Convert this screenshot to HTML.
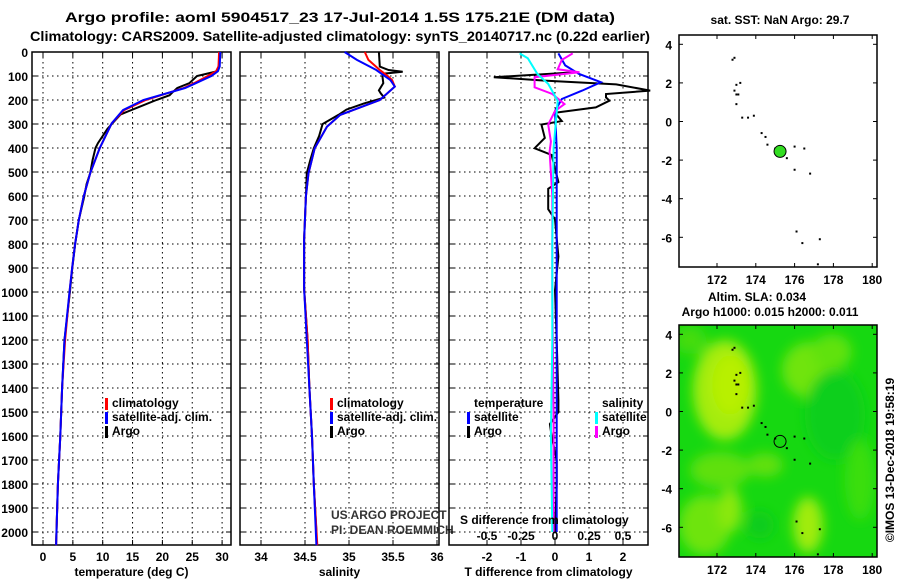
<!DOCTYPE html>
<html><head><meta charset="utf-8"><style>
body{margin:0;background:#fff;}
svg{display:block;font-family:"Liberation Sans",Arial,sans-serif;}
.b{font-weight:bold;font-size:12px;}
.t{font-weight:bold;font-size:14px;}
</style></head><body>
<svg id="c" width="900" height="580" viewBox="0 0 900 580">
<text class="t" x="65" y="22" textLength="550" lengthAdjust="spacingAndGlyphs">Argo profile: aoml 5904517_23 17-Jul-2014 1.5S 175.21E (DM data)</text>
<text class="t" x="30" y="41" textLength="620" lengthAdjust="spacingAndGlyphs">Climatology: CARS2009. Satellite-adjusted climatology: synTS_20140717.nc (0.22d earlier)</text>
<g id="g"></g>
</svg>
<script>
// ---- data ----
const depthTicks=[0,100,200,300,400,500,600,700,800,900,1000,1100,1200,1300,1400,1500,1600,1700,1800,1900,2000];
const tempTicks=[0,5,10,15,20,25,30];
const salTicks=[34,34.5,35,35.5,36];
const salTickLabels=["34","34.5","35","35.5","36"];
const tdTicks=[-2,-1,0,1,2];
const sdTicks=[-0.5,-0.25,0,0.25,0.5];
const sdTickLabels=["-0.5","-0.25","0","0.25","0.5"];
// temperature profiles
const tClimDepth=[0,60,80,100,130,150,200,242,297,401,505,603,700,797,894,985,1200,1400,1600,1800,2055];
const tClim=[29.5,29.4,29.0,27.6,25.3,23.6,17.2,13.6,11.5,9.5,7.9,6.8,6.0,5.4,4.9,4.5,3.7,3.2,2.9,2.5,2.2];
const tSatDepth=[0,60,80,100,130,150,200,242,297,401,505,603,700,797,894,985,1200,1400,1600,1800,2055];
const tSat=[29.7,29.6,29.3,28.2,25.6,23.8,16.8,13.4,11.5,9.5,7.9,6.8,6.0,5.4,4.9,4.5,3.6,3.2,2.9,2.5,2.2];
const tArgoDepth=[0,50,80,90,100,130,150,170,180,200,230,260,290,320,380,400,450,505,550,603,700,800,900,1000,1200,1400,1600,1800,2050];
const tArgo=[29.6,29.5,29.2,27.5,25.8,24.5,22.5,21.6,21.2,19.0,16.0,13.0,11.9,10.8,9.2,8.8,8.3,7.9,7.3,6.9,6.0,5.4,4.9,4.5,3.6,3.2,2.9,2.5,2.2];
// salinity profiles
const sClimDepth=[0,33,75,100,117,144,200,262,311,401,505,603,783,985,1200,1400,1600,1800,2055];
const sClim=[35.18,35.22,35.35,35.44,35.49,35.52,35.35,34.9,34.75,34.61,34.54,34.51,34.49,34.49,34.53,34.55,34.58,34.6,34.64];
const sSatDepth=[0,33,75,117,144,200,262,311,401,505,603,783,985,1200,1400,1600,1800,2055];
const sSat=[34.95,35.09,35.31,35.47,35.52,35.35,34.9,34.75,34.61,34.54,34.51,34.49,34.49,34.52,34.55,34.58,34.6,34.63];
const sArgoDepth=[0,61,75,82,90,100,130,160,172,190,214,240,262,300,350,401,450,505,603,783,985,1200,1400,1600,1800,2000];
const sArgo=[35.34,35.35,35.45,35.61,35.4,35.38,35.39,35.34,35.36,35.4,35.17,34.97,34.88,34.7,34.66,34.6,34.56,34.52,34.51,34.49,34.49,34.53,34.55,34.58,34.6,34.63];
// differences
const dTSatDepth=[6,56,91,126,161,196,246,400,800,1200,1600,2000];
const dTSat=[0.1,0.3,0.7,1.35,0.8,0.2,0.0,0.05,0.05,0.05,0.05,0.05];
const dTArgoDepth=[84,105,119,135,161,175,189,203,231,253,288,302,358,401,429,542,570,655,697,852,993,1200,1450,1500,1550,1600,1700,1800,2000];
const dTArgo=[0.6,-1.8,-0.3,1.8,2.8,1.5,1.5,1.6,1.2,0.0,0.2,-0.4,-0.3,-0.6,-0.1,0.1,-0.2,-0.2,0.0,0.1,0.0,0.05,0.1,0.1,-0.15,-0.1,0.05,0.05,0.0];
const dSArgoDepth=[6,33,72,84,105,147,175,217,246,302,373,415,600,1000,1500,2000];
const dSArgo=[0.13,0.05,0.02,0.18,-0.15,-0.15,-0.02,0.07,0.0,-0.05,-0.03,-0.04,-0.02,-0.02,-0.01,-0.01];
const dSSatDepth=[6,26,91,133,203,400,800,1200,1600,2000];
const dSSat=[-0.26,-0.2,-0.13,-0.05,0.02,-0.01,-0.02,-0.02,-0.03,-0.02];
// maps
const latTicks=[4,2,0,-2,-4,-6];
const lonTicks=[172,174,176,178,180];
const islandLon=[172.8,172.9,173.0,173.2,172.9,173.0,173.1,173.0,173.3,173.6,173.9,174.3,174.5,174.6,175.0,175.6,176.0,176.5,176.0,176.8,176.1,177.3,176.4,177.2];
const islandLat=[3.2,3.3,1.9,2.0,1.6,1.4,1.4,0.9,0.2,0.2,0.3,-0.6,-0.8,-1.2,-1.4,-1.9,-1.3,-1.4,-2.5,-2.7,-5.7,-6.1,-6.3,-7.4];
const floatLon=175.25, floatLat=-1.55;

// ---- drawing ----
const NS='http://www.w3.org/2000/svg';
const G=document.getElementById('g');
function el(tag,attrs,parent){const e=document.createElementNS(NS,tag);for(const k in attrs)e.setAttribute(k,attrs[k]);(parent||G).appendChild(e);return e;}
const TOP=52,BOT=545;
const yD=d=>TOP+d*0.24;

function panel(x0,x1,name,xs,ticks,labels,xlabel){
  const g=el('g',{});
  
  
  depthTicks.forEach(d=>{const y=yD(d);
    const l=el('line',{x1:x0,x2:x1,y1:y,y2:y,stroke:'#000','stroke-width':1,'stroke-dasharray':'1.5,3.5'},g);
    
    
    el('line',{x1:x0,x2:x0+5,y1:y,y2:y,stroke:'#000'},g);el('line',{x1:x1-5,x2:x1,y1:y,y2:y,stroke:'#000'},g);
  });
  ticks.forEach((v,i)=>{const x=xs(v);
    const l=el('line',{x1:x,x2:x,y1:TOP,y2:BOT,stroke:'#000','stroke-width':1,'stroke-dasharray':'1.5,3.5'},g);
    
    
    el('line',{x1:x,x2:x,y1:TOP,y2:TOP+5,stroke:'#000'},g);el('line',{x1:x,x2:x,y1:BOT-5,y2:BOT,stroke:'#000'},g);
    if(labels){const t=el('text',{x:x,y:561,'text-anchor':'middle',class:'b'},g);t.textContent=labels[i];
      
      }
  });
  const r=el('rect',{x:x0,y:TOP,width:x1-x0,height:BOT-TOP,fill:'none',stroke:'#000','stroke-width':1.5},g);
  
  
  const t=el('text',{x:(x0+x1)/2,y:576,'text-anchor':'middle',class:'b'},g);t.textContent=xlabel;
  
  
  return g;
}
function line(xs,vals,depths,color,name,w){
  const p=vals.map((v,i)=>xs(v).toFixed(1)+','+yD(depths[i]).toFixed(1)).join(' ');
  const l=el('polyline',{points:p,fill:'none',stroke:color,'stroke-width':w||2});
  
  
}
function txt(x,y,s,cls,name,anchor,extra){const t=el('text',Object.assign({x:x,y:y,class:cls||'b','text-anchor':anchor||'start'},extra||{}));t.textContent=s;
  
  return t;}
function mark(x,y,color){const r=el('rect',{x:x,y:y-10,width:3,height:12,fill:color});
  
  }

// y labels
depthTicks.forEach(d=>{txt(28,yD(d)+5,String(d),'b','y-tick-label','end');});

// temperature
const xT=v=>43+v*5.97;
panel(32,231,'temperature-panel',xT,tempTicks,tempTicks.map(String),'temperature (deg C)');
line(xT,tArgo,tArgoDepth,'#000','temp-argo-line');
line(xT,tClim,tClimDepth,'#f00','temp-climatology-line');
line(xT,tSat,tSatDepth,'#00f','temp-satellite-line');
mark(105,408,'#f00');txt(112,407,'climatology','b','legend-climatology');
mark(105,422,'#00f');txt(112,421,'satellite-adj. clim.','b','legend-satellite');
mark(105,436,'#000');txt(112,435,'Argo','b','legend-argo');

// salinity
const xS=v=>261+(v-34)*88;
panel(240,439,'salinity-panel',xS,salTicks,salTickLabels,'salinity');
line(xS,sArgo,sArgoDepth,'#000','sal-argo-line');
line(xS,sClim,sClimDepth,'#f00','sal-climatology-line');
line(xS,sSat,sSatDepth,'#00f','sal-satellite-line');
mark(330,408,'#f00');txt(337,407,'climatology','b','legend-climatology');
mark(330,422,'#00f');txt(337,421,'satellite-adj. clim.','b','legend-satellite');
mark(330,436,'#000');txt(337,435,'Argo','b','legend-argo');
txt(331,519,'US ARGO PROJECT','','credit-project','start',{'font-size':'12px',fill:'#333'});
txt(331,534,'PI: DEAN ROEMMICH','','credit-pi','start',{'font-size':'12px',fill:'#333'});

// differences
const xDT=v=>555+v*34;
const xDS=v=>555+v*136;
panel(449,648,'difference-panel',xDT,tdTicks,tdTicks.map(String),'T difference from climatology');
line(xDT,dTArgo,dTArgoDepth,'#000','tdiff-argo-line');
line(xDT,dTSat,dTSatDepth,'#00f','tdiff-satellite-line');
line(xDS,dSArgo,dSArgoDepth,'#f0f','sdiff-argo-line');
line(xDS,dSSat,dSSatDepth,'#0ff','sdiff-satellite-line');
txt(474,407,'temperature','b','legend-temperature-header');
txt(602,407,'salinity','b','legend-salinity-header');
mark(467,422,'#00f');txt(474,421,'satellite','b','legend-t-satellite');
mark(467,436,'#000');txt(474,435,'Argo','b','legend-t-argo');
mark(595,422,'#0ff');txt(602,421,'satellite','b','legend-s-satellite');
mark(595,436,'#f0f');txt(602,435,'Argo','b','legend-s-argo');
txt(460,524,'S difference from climatology','b','s-axis-title');
sdTicks.forEach((v,i)=>txt(xDS(v),540,sdTickLabels[i],'b','s-tick-label','middle'));

// maps
function map(y0,name,bg){
  const X0=679,X1=877,Y1=y0+232;
  const lonX=l=>717+(l-172)*19.4;
  const latY=l=>(y0+86.5)-l*19.3;
  const g=el('g',{});
  
  
  if(bg){
    const defs=el('defs',{},g);
    const f=el('filter',{id:'bl',x:'-50%',y:'-50%',width:'200%',height:'200%'},defs);
    el('feGaussianBlur',{stdDeviation:6},f);
    el('clipPath',{id:'cp'},defs).appendChild(document.createElementNS(NS,'rect'));
    const cr=defs.querySelector('#cp rect');cr.setAttribute('x',X0);cr.setAttribute('y',y0);cr.setAttribute('width',X1-X0);cr.setAttribute('height',232);
    const bgR=el('rect',{x:X0,y:y0,width:X1-X0,height:232,fill:'#16d811'},g);
    
    
    const cg=el('g',{'clip-path':'url(#cp)',filter:'url(#bl)'},g);
    [[725,390,32,50,'#a4ec10'],[730,385,18,30,'#b8f000'],[810,370,28,28,'#70e40a'],[832,352,20,18,'#60e20c'],[720,470,30,18,'#5ee00c'],[705,525,26,30,'#6ee40c'],[730,510,12,22,'#8ae80c'],[808,525,15,28,'#a0ec08'],[765,465,18,12,'#62e00c'],[690,340,16,14,'#44dc10'],[835,415,30,45,'#10cf1a'],[760,525,14,14,'#10cc1a'],[860,480,15,40,'#3ade10']].forEach(b=>el('ellipse',{cx:b[0],cy:b[1],rx:b[2],ry:b[3],fill:b[4]},cg));
  }
  const r=el('rect',{x:X0,y:y0,width:X1-X0,height:232,fill:'none',stroke:'#000','stroke-width':1.5},g);
  
  
  latTicks.forEach(l=>{const y=latY(l);txt(672,y+5,String(l),'b','lat-tick-label','end');
    el('line',{x1:X0,x2:X0+4,y1:y,y2:y,stroke:'#000'},g);el('line',{x1:X1-4,x2:X1,y1:y,y2:y,stroke:'#000'},g);});
  lonTicks.forEach(l=>{const x=lonX(l);txt(x,Y1+17,String(l),'b','lon-tick-label','middle');
    el('line',{x1:x,x2:x,y1:y0,y2:y0+4,stroke:'#000'},g);el('line',{x1:x,x2:x,y1:Y1-4,y2:Y1,stroke:'#000'},g);});
  islandLon.forEach((lo,i)=>{const d=el('rect',{x:lonX(lo)-1,y:latY(islandLat[i])-1,width:2,height:2,fill:'#000'},g);
    
    });
  const c=el('circle',{cx:lonX(floatLon),cy:latY(floatLat),r:6,fill:bg?'none':'#33dd22',stroke:'#000','stroke-width':1},g);
  
  
}
txt(780,24,'sat. SST: NaN Argo: 29.7','b','sst-map-title','middle');
map(35,'sst-map',false);
txt(757,301,'Altim. SLA: 0.034','b','sla-map-title','middle');
txt(770,316,'Argo h1000: 0.015 h2000: 0.011','b','sla-map-subtitle','middle');
map(325,'sla-map',true);
txt(0,0,'©IMOS 13-Dec-2018 19:58:19','','imos-stamp','middle',{'font-size':'12px',transform:'translate(894,460) rotate(-90)'});
</script>
</body></html>
